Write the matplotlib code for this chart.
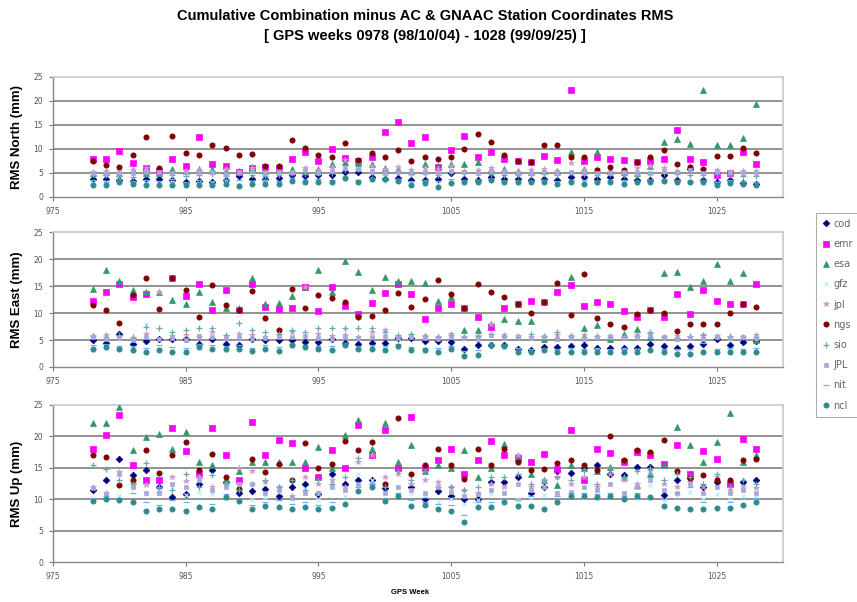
import numpy as np
import matplotlib
matplotlib.use("Agg")
import matplotlib.pyplot as plt

weeks = list(range(978, 1029))
series_names = ["cod", "emr", "esa", "gfz", "jpl", "ngs", "sio", "JPL", "nit", "ncl"]

# ---------------- North ----------------
cod_n = [3.8,3.8,3.5,3.4,3.8,3.8,3.5,3.2,3.3,3.2,3.5,4.3,3.8,3.8,4.0,4.5,4.3,4.5,4.5,5.2,5.2,4.2,3.8,4.0,3.6,3.5,3.8,4.9,3.8,3.6,4.2,3.8,3.8,3.6,3.8,3.6,4.2,4.2,3.8,4.2,3.8,3.6,3.6,4.5,3.6,5.9,3.6,3.2,3.5,3.0,2.8]
emr_n = [8.0,8.0,9.6,7.0,6.0,5.5,8.0,6.4,12.5,6.8,6.5,5.2,6.0,6.2,6.0,8.0,9.4,7.6,9.9,8.2,7.5,8.3,13.5,15.6,11.2,12.4,6.3,9.7,12.8,8.3,9.4,8.0,7.6,7.2,8.5,7.8,22.2,7.6,8.3,8.0,7.8,7.3,7.6,8.0,13.9,8.0,7.3,4.5,4.9,9.4,6.9]
esa_n = [5.0,5.2,5.0,5.7,5.0,5.0,5.9,5.5,5.9,5.8,5.5,5.5,6.2,5.5,5.8,5.9,5.5,5.8,6.9,7.2,7.0,6.8,6.0,5.9,5.5,6.9,6.5,6.9,6.8,7.3,5.9,5.9,5.5,5.3,5.5,5.5,9.4,5.9,9.4,5.5,5.2,5.0,6.5,11.5,12.0,11.1,22.2,10.8,10.8,12.2,19.4]
gfz_n = [2.9,3.1,3.3,2.7,3.0,2.8,3.2,2.6,2.9,3.0,3.4,2.8,3.1,3.3,2.9,3.6,3.2,3.4,3.0,3.8,3.3,3.5,3.1,3.6,2.9,3.2,2.7,3.4,3.0,3.3,3.6,3.1,2.9,3.2,3.4,3.0,3.3,3.1,2.9,3.4,3.2,3.0,3.3,3.5,3.1,3.2,2.9,3.0,3.2,2.9,2.7]
jpl_n = [5.2,5.5,4.8,5.6,6.1,5.6,5.0,5.4,5.6,5.2,5.8,5.0,6.0,5.3,5.5,5.0,6.0,5.7,6.2,7.8,7.5,6.5,5.8,6.2,5.6,6.0,5.8,6.5,5.5,5.6,6.0,5.5,5.3,5.6,5.8,5.5,7.0,5.6,5.8,5.2,5.5,6.0,6.5,6.0,5.5,6.5,5.8,5.6,5.2,5.5,5.4]
ngs_n = [7.5,6.6,6.25,8.8,12.5,6.0,12.8,9.2,8.8,10.8,10.3,8.8,9.0,6.4,6.4,11.8,10.3,8.8,8.3,11.2,7.8,9.2,8.3,9.7,7.6,8.3,8.0,8.3,10.1,13.2,11.5,8.7,7.6,7.3,10.8,10.8,8.3,8.3,5.7,6.25,5.6,7.3,8.3,9.7,6.9,6.25,5.9,8.5,8.5,10.3,9.2]
sio_n = [4.5,4.6,4.4,4.2,4.8,4.9,4.5,4.3,4.6,4.7,4.4,4.9,4.6,4.4,4.6,5.0,4.8,5.0,4.9,5.6,5.8,5.0,4.8,5.2,4.7,4.8,4.6,5.2,4.9,5.0,4.8,4.6,4.6,4.5,4.8,4.6,4.9,4.8,4.6,4.7,4.5,4.6,4.7,5.0,4.8,4.5,4.6,4.7,4.5,4.4,4.3]
JPL_n = [5.0,4.8,5.2,5.0,5.5,5.2,4.9,5.3,5.0,5.2,4.8,5.3,5.5,5.0,4.9,5.2,5.6,5.0,5.4,6.0,5.8,5.5,5.0,5.3,5.1,5.2,5.0,5.4,5.2,5.0,5.4,5.2,5.0,5.1,5.3,5.0,5.2,5.0,5.1,5.0,5.2,5.1,5.0,5.4,5.3,5.6,5.0,5.4,5.2,5.0,5.1]
nit_n = [3.5,3.2,3.8,3.4,3.6,3.3,3.7,3.2,3.5,3.4,3.6,3.5,3.3,3.6,3.4,3.9,3.6,3.8,3.5,4.2,3.6,3.9,3.7,3.8,3.4,3.6,3.3,3.8,3.5,3.6,3.8,3.4,3.5,3.4,3.6,3.3,3.5,3.6,3.4,3.6,3.5,3.4,3.5,3.7,3.5,3.4,3.6,3.2,3.5,3.3,3.2]
ncl_n = [2.4,2.4,3.1,2.8,2.4,2.4,2.4,2.4,2.6,2.4,2.8,2.2,2.8,2.8,2.7,3.3,3.1,3.1,3.1,4.0,3.1,3.8,3.8,3.3,2.6,2.9,2.1,2.9,3.1,3.1,3.5,3.1,3.1,3.1,3.1,2.8,3.1,2.8,3.1,3.1,2.8,3.1,3.1,3.3,3.1,3.1,3.1,2.6,2.9,2.8,2.4]

# ---------------- East ----------------
cod_e = [5.0,4.5,6.2,4.3,4.8,5.1,5.1,5.1,4.3,5.1,4.3,4.0,5.1,5.0,5.0,5.0,4.7,4.7,5.1,4.5,4.3,4.5,4.5,5.3,5.3,4.8,4.9,4.6,3.4,4.0,4.0,4.0,3.4,3.1,3.7,3.7,3.8,4.0,3.5,3.5,3.5,3.5,4.2,3.8,3.5,3.8,4.3,5.2,4.0,4.6,4.9]
emr_e = [12.3,13.9,15.4,13.0,13.5,np.nan,16.5,13.1,15.3,10.5,14.2,10.5,15.4,11.2,10.8,11.0,14.8,10.4,14.9,11.3,9.9,11.9,13.7,15.4,13.6,8.8,11.0,11.6,11.0,9.3,7.4,11.0,11.6,12.3,12.0,13.9,15.1,11.3,12.0,11.6,10.4,9.3,10.6,9.3,13.5,9.9,14.2,12.2,11.7,11.6,15.3]
esa_e = [14.5,17.9,15.9,14.3,13.9,13.9,12.5,11.7,13.9,12.0,11.0,11.0,16.4,11.7,11.9,13.1,14.8,18.0,13.9,19.6,17.6,14.2,16.7,15.9,16.0,15.6,12.3,13.0,6.8,6.8,8.0,8.8,8.6,8.6,5.2,5.5,16.7,7.3,7.7,5.2,6.2,7.1,5.5,17.4,17.6,14.8,16.0,19.0,16.0,17.4,5.0]
gfz_e = [3.2,3.5,3.3,3.0,8.0,3.4,2.9,3.1,3.6,3.3,3.2,3.4,3.0,3.5,3.1,3.8,3.4,3.3,3.2,7.0,3.3,3.5,3.1,3.6,3.2,3.0,3.0,3.3,2.4,2.6,3.8,3.5,3.0,2.9,3.1,3.0,3.1,3.0,3.2,3.0,3.2,3.1,3.4,3.0,2.9,3.0,3.1,3.0,3.2,3.0,3.1]
jpl_e = [5.8,6.0,5.5,5.2,6.2,13.9,5.8,6.0,5.5,6.5,5.8,6.2,6.0,5.5,6.0,6.5,14.8,6.2,5.8,6.0,5.6,6.5,6.8,5.5,6.0,5.8,5.6,6.2,5.5,5.8,8.0,6.0,5.8,5.5,5.6,6.0,5.8,6.0,5.5,5.8,5.6,6.0,6.2,5.5,5.8,5.6,6.0,5.8,5.5,5.6,6.0]
ngs_e = [11.5,10.6,8.1,13.3,16.5,10.8,16.5,14.3,9.3,15.1,11.4,10.5,14.1,9.1,6.9,14.4,11.0,13.3,12.7,12.0,9.3,9.4,10.5,13.7,11.2,12.6,16.2,13.6,11.0,15.4,13.9,13.0,11.6,10.0,12.0,15.6,9.7,17.2,9.0,7.9,7.4,9.8,10.6,10.0,6.6,7.9,7.9,7.9,10.0,11.6,11.1]
sio_e = [5.8,5.5,6.0,5.5,7.5,7.3,6.5,6.8,7.3,7.3,6.0,8.1,6.8,6.5,6.2,6.8,6.5,7.3,7.3,7.3,7.3,7.3,6.5,6.0,6.2,5.8,5.5,6.0,5.5,5.8,6.2,5.8,5.5,6.2,5.8,6.5,5.7,5.5,5.8,5.6,5.5,5.8,6.5,5.5,5.4,5.8,6.0,5.5,5.8,5.6,5.5]
JPL_e = [5.6,5.2,5.4,5.0,5.5,5.2,5.4,5.0,5.8,5.5,5.3,5.6,5.2,5.4,5.5,5.6,5.8,5.4,5.2,5.5,5.4,5.5,5.8,5.3,5.6,5.4,5.2,5.6,5.4,5.2,5.9,5.4,5.5,5.3,5.6,5.2,5.4,5.2,5.6,5.5,5.3,5.6,5.8,5.5,5.2,5.4,5.2,5.6,5.4,5.5,5.3]
nit_e = [4.0,4.2,3.9,3.8,3.6,4.0,3.7,3.6,4.2,4.0,3.8,4.0,3.6,4.1,3.7,4.3,4.0,3.9,3.8,4.4,3.9,4.0,3.8,4.2,3.7,3.6,3.5,3.9,3.0,3.2,4.3,4.0,3.6,3.4,3.6,3.4,3.5,3.4,3.6,3.4,3.5,3.4,5.5,3.4,3.3,3.4,4.5,3.4,3.5,3.4,3.5]
ncl_e = [3.4,3.7,3.4,3.1,2.8,3.2,2.8,2.8,3.7,3.4,3.4,3.4,2.9,3.4,2.9,4.0,3.7,3.4,3.1,4.0,3.4,3.4,3.2,3.8,3.2,3.1,2.8,3.4,2.0,2.2,4.0,3.8,2.8,2.8,3.1,2.8,2.8,2.8,2.8,2.8,2.8,2.8,3.1,2.8,2.5,2.5,2.8,2.8,2.8,2.8,2.8]

# ---------------- Up ----------------
cod_u = [11.5,13.0,16.4,13.8,14.6,12.0,10.4,10.8,12.4,14.6,12.8,11.0,11.3,11.6,10.5,11.9,12.4,10.8,14.0,12.4,13.1,13.1,11.8,14.8,12.0,10.0,11.3,10.5,10.0,10.0,12.7,12.7,13.5,11.0,12.0,14.5,14.2,15.0,15.4,14.0,13.8,15.2,15.2,10.6,13.0,13.4,12.0,12.7,12.4,12.7,13.1]
emr_u = [18.0,20.2,23.4,15.4,13.0,13.0,21.4,17.6,14.0,21.4,17.1,13.0,22.3,17.1,19.4,19.0,15.0,13.5,17.9,15.0,21.8,17.0,21.0,15.0,23.1,15.0,16.2,18.0,14.0,16.3,19.3,17.0,16.5,15.9,17.2,14.8,21.0,13.1,18.0,17.3,16.0,17.5,17.0,15.6,18.6,14.0,17.7,16.4,12.5,19.6,18.0]
esa_u = [22.1,22.1,24.7,17.8,19.9,20.4,18.0,20.7,15.9,15.5,13.0,14.5,15.9,15.9,15.9,15.9,15.9,18.3,15.0,20.3,22.6,18.0,22.1,16.0,18.6,14.5,15.5,15.0,17.8,13.5,15.0,18.8,16.5,14.0,13.0,12.2,15.5,15.0,14.5,15.1,13.5,12.2,14.0,15.5,21.5,18.6,16.0,19.1,23.7,16.0,17.0]
gfz_u = [10.2,11.0,10.5,11.8,10.8,11.5,12.0,10.6,11.2,10.9,10.0,12.5,9.8,10.4,11.1,10.2,11.6,9.9,12.8,10.5,14.0,13.0,10.1,10.8,11.0,10.5,9.6,10.0,9.2,9.8,10.8,11.2,9.9,10.3,10.6,11.0,10.9,10.2,12.0,10.6,11.0,10.0,12.3,9.8,10.5,11.2,10.0,10.8,9.8,10.5,10.3]
jpl_u = [11.9,11.0,14.3,12.5,12.2,11.0,13.5,12.9,13.5,12.0,12.5,15.0,14.5,12.8,12.0,10.5,13.5,12.5,13.0,12.0,16.0,17.0,13.5,14.0,12.5,13.0,12.8,12.0,11.5,11.0,12.5,12.0,17.1,12.0,13.0,13.5,12.5,13.5,12.0,14.0,13.0,12.5,14.5,12.5,12.0,12.8,12.0,13.5,11.5,12.0,11.8]
ngs_u = [17.0,16.7,12.2,13.0,17.8,14.1,17.0,19.1,14.6,17.2,13.5,11.6,16.4,14.3,15.6,13.0,19.0,15.0,15.6,19.3,17.8,19.1,12.4,22.9,14.0,15.4,18.0,15.4,13.2,18.0,15.4,18.0,15.9,14.6,14.8,15.7,16.2,15.4,14.6,20.0,16.3,17.9,17.5,19.5,14.5,13.4,13.8,13.0,13.0,16.2,16.4]
sio_u = [15.5,14.8,13.0,12.5,15.8,12.0,11.5,14.0,12.0,13.8,12.5,11.5,12.5,13.0,12.0,13.0,11.5,13.0,12.5,13.5,16.5,12.5,12.0,14.5,13.0,14.5,12.0,12.0,11.5,12.0,13.5,13.5,14.0,12.5,13.0,13.5,13.0,14.5,12.5,15.0,13.5,14.5,15.0,13.0,14.0,13.5,12.5,14.0,12.0,13.0,12.5]
JPL_u = [11.8,10.8,14.0,12.0,11.0,11.0,12.5,12.0,13.0,11.5,12.0,12.5,12.5,11.0,11.5,10.2,11.0,11.0,12.0,11.5,12.5,12.5,11.0,12.0,11.5,11.0,12.0,11.2,10.5,10.8,11.5,11.0,12.5,11.5,12.0,11.0,11.2,12.0,11.5,12.5,11.0,12.0,13.0,11.5,11.0,12.5,11.0,12.0,11.0,11.5,11.0]
nit_u = [10.0,10.5,10.2,11.0,9.5,9.0,9.8,9.5,10.0,9.2,10.8,10.0,9.0,9.5,9.8,9.2,9.5,9.0,9.5,10.0,12.0,12.5,10.2,11.0,9.8,9.5,9.2,9.0,7.5,9.5,9.5,10.0,9.8,10.5,10.0,10.5,11.0,11.0,10.8,11.0,10.5,11.0,14.0,10.0,11.0,12.0,9.5,10.0,9.5,10.0,10.2]
ncl_u = [9.7,10.0,9.8,9.5,8.1,8.4,8.5,8.2,8.7,8.4,10.3,9.7,8.4,8.9,8.8,8.5,8.7,8.4,8.6,9.2,11.3,12.0,9.7,10.5,8.9,9.0,8.4,8.1,6.3,8.8,8.8,9.5,8.9,8.9,8.4,9.6,10.5,10.5,10.3,10.5,10.0,10.5,10.3,8.9,8.6,8.4,8.4,8.6,8.6,9.0,9.5]

panels = [
    ("RMS North (mm)", [cod_n, emr_n, esa_n, gfz_n, jpl_n, ngs_n, sio_n, JPL_n, nit_n, ncl_n]),
    ("RMS East (mm)", [cod_e, emr_e, esa_e, gfz_e, jpl_e, ngs_e, sio_e, JPL_e, nit_e, ncl_e]),
    ("RMS Up (mm)", [cod_u, emr_u, esa_u, gfz_u, jpl_u, ngs_u, sio_u, JPL_u, nit_u, ncl_u]),
]
xticks = [975, 985, 995, 1005, 1015, 1025]
yticks = [0, 5, 10, 15, 20, 25]

styles = {
    "cod": dict(marker="D", color="#000080", ms=3.4),
    "emr": dict(marker="s", color="#FF00FF", ms=3.8),
    "esa": dict(marker="^", color="#339966", ms=4.0),
    "gfz": dict(marker="x", color="#B8F0F8", ms=3.2),
    "jpl": dict(marker="*", color="#CC99CC", ms=3.8),
    "ngs": dict(marker="o", color="#800000", ms=3.8),
    "sio": dict(marker="+", color="#66AAAA", ms=3.8),
    "JPL": dict(marker="s", color="#A8A8D8", ms=2.2),
    "nit": dict(marker="_", color="#66B2FF", ms=4.0),
    "ncl": dict(marker="o", color="#2E8B8B", ms=3.8),
}

fig = plt.figure(figsize=(8.57, 6.02), dpi=100)
W, H = 857, 602
boxes = [(53, 77, 783, 197), (53, 232, 783, 367), (53, 405, 783, 562)]

axes = []
for (x0, y0, x1, y1), (ylabel, data) in zip(boxes, panels):
    ax = fig.add_axes([x0 / W, 1 - y1 / H, (x1 - x0) / W, (y1 - y0) / H])
    for y in [5, 10, 15, 20]:
        ax.axhline(y, color="#8a8a8a", lw=1.3, zorder=1)
    for name, vals in zip(series_names, data):
        assert len(vals) == len(weeks), name
        st = styles[name]
        ax.plot(weeks, vals, linestyle="none", marker=st["marker"], color=st["color"],
                markersize=st["ms"], markeredgewidth=0.9 if st["marker"] in "x+_" else 0.5,
                label=name, zorder=3)
    ax.set_xlim(975, 1030)
    ax.set_ylim(0, 25)
    ax.set_xticks(xticks)
    ax.set_yticks(yticks)
    ax.tick_params(axis="both", labelsize=5.5, labelcolor="#555555", color="#777777",
                   length=3, width=0.8, direction="out", pad=4)
    for side in ["top", "right"]:
        ax.spines[side].set_color("#c8c8c8")
        ax.spines[side].set_linewidth(1.2)
    for side in ["left", "bottom"]:
        ax.spines[side].set_color("#888888")
        ax.spines[side].set_linewidth(1.0)
    ax.set_ylabel(ylabel, fontsize=9.5, fontweight="bold", family="Liberation Sans", labelpad=8)
    axes.append(ax)

fig.text(425 / W, 1 - 16 / H, "Cumulative Combination minus AC & GNAAC Station Coordinates RMS",
         ha="center", va="center", fontsize=10.5, fontweight="bold", family="Liberation Sans")
fig.text(425 / W, 1 - 36 / H, "[ GPS weeks 0978 (98/10/04) - 1028 (99/09/25) ]",
         ha="center", va="center", fontsize=10.5, fontweight="bold", family="Liberation Sans")
fig.text(410 / W, 1 - 592 / H, "GPS Week", ha="center", va="center", fontsize=5.5,
         fontweight="bold", family="Liberation Sans")

handles, labels = axes[0].get_legend_handles_labels()
leg = fig.legend(handles, labels, loc="upper left", bbox_to_anchor=(816 / W, 1 - 213 / H),
                 fontsize=7, frameon=True, fancybox=False, edgecolor="#999999",
                 labelspacing=1.05, handlelength=0.8, handletextpad=0.4, borderpad=0.6,
                 borderaxespad=0)
for t in leg.get_texts():
    t.set_color("#666666")
leg.get_frame().set_linewidth(0.8)

fig.savefig("out.png", dpi=100, facecolor="white")
